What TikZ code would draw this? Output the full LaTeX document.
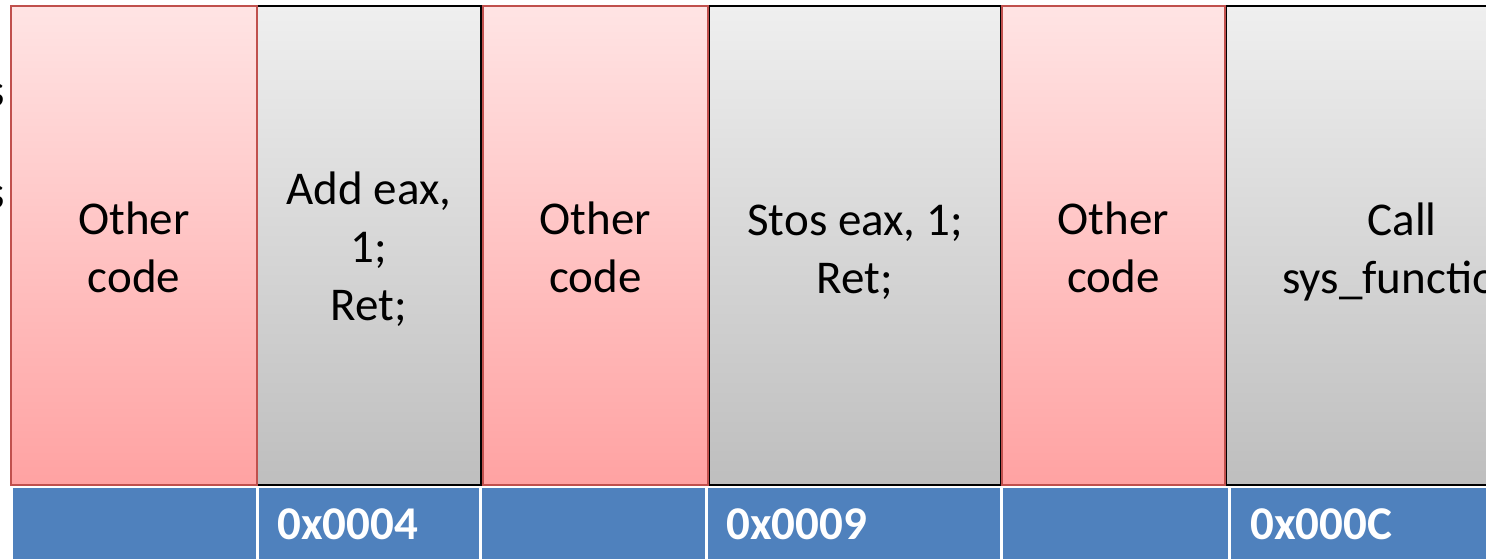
\documentclass[tikz,border=0pt]{standalone}
\usepackage{fontspec}
\setmainfont{Carlito}
\definecolor{redtop}{RGB}{255,228,228}
\definecolor{redbot}{RGB}{255,162,162}
\definecolor{redline}{RGB}{192,80,77}
\definecolor{graytop}{RGB}{239,239,239}
\definecolor{graybot}{RGB}{190,190,190}
\definecolor{cellblue}{RGB}{79,129,189}
\tikzset{
  redcol/.style={top color=redtop, bottom color=redbot, draw=redline, line width=2pt},
  graycol/.style={top color=graytop, bottom color=graybot, draw=black, line width=2pt},
  bluecell/.style={fill=cellblue},
  codetext/.style={align=center, font=\fontsize{47}{58}\selectfont, text=black, inner sep=0pt},
  addrtext/.style={anchor=west, font=\fontsize{47}{56}\selectfont\bfseries, text=white, inner sep=0pt},
}
\begin{document}
\begin{tikzpicture}[x=1pt,y=-1pt]
\useasboundingbox (0,0) rectangle (1486,559);
\clip (0,0) rectangle (1486,559);
\fill[white] (0,0) rectangle (1486,559);

% memory columns
\shade[graycol] (257,6) rectangle (481,485);
\shade[graycol] (709,6) rectangle (1001,485);
\shade[graycol] (1226,6) rectangle (1600,485);
\shade[redcol] (11,6) rectangle (257,485);
\shade[redcol] (483,6) rectangle (708,485);
\shade[redcol] (1002,6) rectangle (1225,485);

% address row
\fill[bluecell] (13,488) rectangle (256,565);
\fill[bluecell] (259,488) rectangle (479,565);
\fill[bluecell] (482,488) rectangle (705,565);
\fill[bluecell] (708,488) rectangle (1000,565);
\fill[bluecell] (1003,488) rectangle (1228,565);
\fill[bluecell] (1231,488) rectangle (1600,565);

% text cut off at the left edge
\node[codetext, anchor=east] (sa) at (5,95) {s};
\node[codetext, anchor=east] (sb) at (5,197) {s};

% column contents
\node[codetext] (c1) at (134,247) {Other\\code};
\node[codetext] (c2) at (369,249) {Add eax,\\1;\\Ret;};
\node[codetext] (c3) at (595.5,247) {Other\\code};
\node[codetext] (c4) at (855,252) {Stos eax, 1;\\Ret;};
\node[codetext] (c5) at (1113.5,247) {Other\\code};
\node[codetext] (c6) at (1402,252) {Call\\sys\_function};

% addresses
\node[addrtext] (a1) at (277,524) {0x0004};
\node[addrtext] (a2) at (726,524) {0x0009};
\node[addrtext] (a3) at (1250,524) {0x000C};
\end{tikzpicture}
\end{document}
